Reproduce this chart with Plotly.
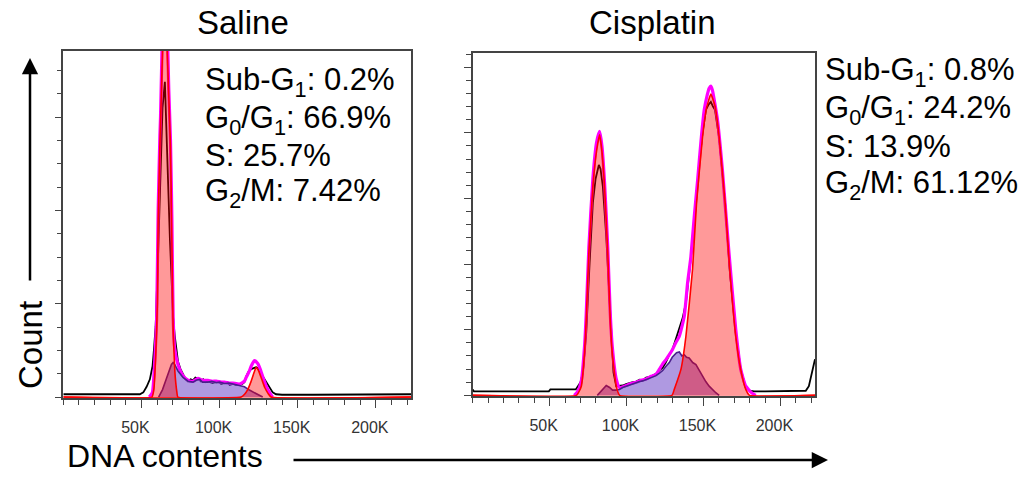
import plotly.graph_objects as go

# ---------------- data (x in K units of DNA content, y = counts) ----------------
# Saline panel
L_black_x = [0, 10, 20, 30, 40, 49, 51.2, 53.3, 55.4, 57.1,
             58.0, 59.1, 60.7, 62.2, 63.5, 65.0, 66.0, 67.1, 68.2, 69.2,
             70.3, 71.3, 72.4, 73.4, 75, 76.6, 78, 79.8, 81.5, 83.0,
             84.5, 86.2, 88, 89.5, 91, 92.6, 94, 95.5, 97.9, 99.5,
             101, 103.2, 105, 106.5, 108.5, 110.5, 112.7, 114.5, 115.9, 117.0,
             118.5, 120.2, 122.3, 123.4, 124.4, 125.5, 127.6, 129.8, 131.9, 134.0,
             136.1, 140, 160, 180, 200, 222.5]
L_black_y = [3, 3, 3, 3, 3, 3, 5, 11, 19, 33,
             51, 76, 155, 250, 310, 338, 280, 217, 170, 130,
             85, 66, 52, 38, 30, 24, 20, 17, 19, 18,
             21, 20, 17, 19, 16, 18, 16, 15, 16, 17,
             14, 15, 16, 13, 14, 13, 13, 14, 16, 22,
             27, 30, 31, 32, 31, 28, 22, 16, 10, 5,
             3, 2.5, 2.5, 2.5, 2.5, 3]

L_fit_x = [55, 57, 58.6, 59.7, 60.7, 61.8, 62.2, 63.5, 65.0, 66.5,
           67.5, 68.6, 69.5, 70.3, 71.3, 73.4, 76.6, 79.8, 83.0, 86.2,
           89, 92.6, 95, 97.9, 101, 103.2, 106, 108.5, 112.7, 115.9,
           117.0, 119.1, 120.2, 122.3, 124.4, 126, 127.6, 129.8, 131.9, 133.0, 134]
L_fit_y = [0, 5, 41, 83, 200, 280, 300, 400, 520, 400,
           330, 275, 190, 85, 52, 35, 23, 18, 17, 20,
           18, 18, 17, 17, 16, 16, 15, 15, 14, 17,
           21, 28, 33, 39, 36, 30, 22, 12, 5, 2, 0]

L_S_x = [61, 63.5, 66, 68.2, 69.2, 70.3, 71.3, 73.4, 76.6, 79.8,
         83.0, 85, 87.3, 89, 92.6, 95, 97.9, 100, 103.2, 106,
         108.5, 110.5, 112.7, 115.9, 119.1, 122.3, 125.5, 127.6]
L_S_y = [0, 8, 20, 30, 35, 37, 35, 28, 21, 17,
         16, 18, 19, 16, 16, 17, 15.5, 16, 14.5, 15,
         14, 13.5, 13, 11, 7.5, 4.5, 1.5, 0]

L_G1_x = [0, 56.7, 58.0, 59.2, 60.2, 60.7, 61.8, 63.5, 65.2, 66.5, 68.6, 69.3, 70.3, 71.4, 72.7, 73.3, 222.5]
L_G1_y = [0, 0, 9, 48, 100, 190, 270, 372, 520, 372, 270, 190, 73, 27, 5, 0, 0]

L_G2_x = [0, 113.8, 116, 118, 120, 122, 123.4, 125, 127, 129, 131, 133, 222.5]
L_G2_y = [0, 0, 3, 8, 16, 26, 32, 28, 19, 10, 4, 0, 0]

# Cisplatin panel
R_black_x = [0, 0.8, 2, 49.5, 50.5, 67, 68.4, 70.1, 71.6, 73.8,
             76.0, 78.1, 79.9, 82.0, 83.1, 84.6, 86.8, 88.5, 90.0, 91.5,
             93.3, 95.4, 97.5, 99.7, 102, 104, 106.2, 108.5, 110.5, 112.7,
             115, 117, 119.2, 121.4, 123.5, 125.5, 127.8, 129.9, 132, 134.3,
             136.5, 138.6, 140.8, 142.9, 145, 147.2, 149.4, 151.6, 153.3, 154.8,
             156.2, 157.5, 160.2, 164.1, 167.1, 171, 174.2, 177.5, 180, 183,
             190, 200, 210, 216.5, 218.5, 220, 221.5, 222.5]
R_black_y = [9, 6, 6, 6, 9, 9, 14, 20, 35, 96,
             202, 293, 330, 351, 345, 318, 242, 166, 90, 35,
             14, 14, 15, 17, 18, 20, 21, 24, 23, 27,
             28, 31, 33, 38, 42, 50, 62, 70, 86, 100,
             118, 141, 185, 233, 290, 354, 400, 435, 443, 447,
             440, 435, 392, 293, 190, 95, 40, 12, 7, 6,
             6, 6, 6, 7, 14, 28, 45, 55]

R_fit_x = [66, 68, 70.6, 72.7, 73.8, 75.5, 78.1, 80.5, 82.5, 84,
           85.7, 87.8, 89.4, 90.7, 93.3, 95.4, 99.7, 103, 106.2, 109.5,
           112.7, 116, 119.2, 121.4, 123.5, 125.5, 127.8, 129.9, 132, 134.3,
           137.5, 139.7, 141.8, 144, 146.2, 148.3, 150.5, 152.5, 153.7, 154.8,
           155.8, 159.1, 162.3, 166.6, 171, 174.2, 177.5, 181.7, 184]
R_fit_y = [0, 5, 22, 75, 125, 225, 330, 385, 402, 380,
           325, 225, 125, 75, 25, 12, 15, 18, 20, 23,
           25, 29, 32, 40, 48, 54, 62, 70, 80, 90,
           120, 172, 211, 272, 328, 385, 435, 458, 468, 471,
           465, 420, 344, 217, 100, 40, 14, 3, 0]

R_S_x = [81, 84, 86.8, 89, 90.9, 93, 95.4, 97.5, 99.7, 102,
         104, 106.2, 108.5, 110.5, 112.7, 115, 117, 119.2, 121.4, 123.5,
         125.5, 127.8, 129.7, 131, 132.5, 134.3, 136, 137.5, 139, 140.7,
         143, 145.1, 147.3, 149.4, 151.5, 153.7, 156, 158, 160.2]
R_S_y = [0, 8, 15, 12, 8, 8, 9, 12, 14, 16,
         17, 19, 21, 22, 24, 26, 28, 30, 34, 38,
         44, 50, 58, 61, 65, 66, 60, 62, 58, 57,
         50, 47, 38, 29, 21, 14, 8, 4, 0]

R_G1_x = [0, 67.5, 70.6, 72.7, 73.8, 75.5, 78.1, 80.5, 82.5, 84, 85.7, 87.8, 89.4, 90.7, 93.3, 95.5, 222.5]
R_G1_y = [0, 0, 14, 65, 116, 217, 318, 372, 397, 372, 318, 217, 116, 65, 14, 0, 0]

R_G2_x = [0, 129.5, 131, 135.4, 138.6, 142.9, 145.5, 149.4, 152, 154.8, 157.5, 160.2, 164.1, 167.1, 171, 174.2, 177.5, 180, 222.5]
R_G2_y = [0, 0, 9, 40, 90, 192, 293, 394, 438, 459, 441, 394, 293, 192, 90, 40, 9, 0, 0]

titles = ["Saline", "Cisplatin"]
saline_stats = ["Sub-G<sub>1</sub>: 0.2%", "G<sub>0</sub>/G<sub>1</sub>: 66.9%", "S: 25.7%", "G<sub>2</sub>/M: 7.42%"]
cis_stats = ["Sub-G<sub>1</sub>: 0.8%", "G<sub>0</sub>/G<sub>1</sub>: 24.2%", "S: 13.9%", "G<sub>2</sub>/M: 61.12%"]
x_tickvals = [50, 100, 150, 200]
x_ticktext = ["50K", "100K", "150K", "200K"]

for arr in [(L_black_x, L_black_y), (L_fit_x, L_fit_y), (L_S_x, L_S_y), (L_G1_x, L_G1_y), (L_G2_x, L_G2_y),
            (R_black_x, R_black_y), (R_fit_x, R_fit_y), (R_S_x, R_S_y), (R_G1_x, R_G1_y), (R_G2_x, R_G2_y)]:
    assert len(arr[0]) == len(arr[1])

FONT = "Liberation Sans, Arial, sans-serif"
RED_FILL = "rgba(255,0,0,0.40)"
S_FILL = "rgba(110,70,200,0.55)"

fig = go.Figure()


def add_panel(xa, ya, bx, by, fx, fy, sx, sy, g1x, g1y, g2x, g2y):
    fig.add_trace(go.Scatter(x=bx, y=by, mode="lines", line=dict(color="black", width=1.8),
                             xaxis=xa, yaxis=ya, hoverinfo="skip"))
    fig.add_trace(go.Scatter(x=fx, y=fy, mode="lines", line=dict(color="#ff00ff", width=3.2, shape="spline", smoothing=0.5),
                             xaxis=xa, yaxis=ya, hoverinfo="skip"))
    fig.add_trace(go.Scatter(x=sx, y=sy, mode="lines", fill="tozeroy", fillcolor=S_FILL,
                             line=dict(color="#4a1f8c", width=1.6), xaxis=xa, yaxis=ya, hoverinfo="skip"))
    for gx, gy in [(g1x, g1y), (g2x, g2y)]:
        fig.add_trace(go.Scatter(x=gx, y=gy, mode="lines", fill="tozeroy", fillcolor=RED_FILL,
                                 line=dict(color="#ff0000", width=1.6, shape="spline", smoothing=0.4),
                                 xaxis=xa, yaxis=ya, hoverinfo="skip"))


add_panel("x", "y", L_black_x, L_black_y, L_fit_x, L_fit_y, L_S_x, L_S_y, L_G1_x, L_G1_y, L_G2_x, L_G2_y)
add_panel("x2", "y2", R_black_x, R_black_y, R_fit_x, R_fit_y, R_S_x, R_S_y, R_G1_x, R_G1_y, R_G2_x, R_G2_y)

W, H = 1023, 477


def xdict(dom, anchor):
    return dict(domain=dom, anchor=anchor, range=[0, 222.5], showline=True, mirror=True, linecolor="#444", linewidth=1.5,
                ticks="outside", ticklen=8, tickwidth=1.2, tickcolor="#444",
                tickvals=x_tickvals, ticktext=x_ticktext,
                tickfont=dict(family=FONT, size=16, color="#333"),
                ticklabelstandoff=6, ticklabelshift=-6,
                minor=dict(dtick=10, tick0=0, ticks="outside", ticklen=5, tickwidth=1.2, tickcolor="#444"),
                showgrid=False, zeroline=False, layer="below traces", fixedrange=True)


def ydict(dom, anchor, top, minor):
    return dict(domain=dom, anchor=anchor, range=[-1, top], showline=True, mirror=True, linecolor="#444", linewidth=1.5,
                ticks="outside", ticklen=7, tickwidth=1.2, tickcolor="#444", dtick=100, tick0=0,
                showticklabels=False,
                minor=dict(dtick=minor, tick0=0, ticks="outside", ticklen=5, tickwidth=1.2, tickcolor="#444"),
                showgrid=False, zeroline=False, layer="below traces", fixedrange=True)


fig.update_layout(
    width=W, height=H, margin=dict(l=0, r=0, t=0, b=0),
    paper_bgcolor="white", plot_bgcolor="white", showlegend=False,
    xaxis=xdict([63.3 / W, 411 / W], "y"),
    yaxis=ydict([1 - 398 / H, 1 - 51 / H], "x", 371, 25),
    xaxis2=xdict([472.7 / W, 815 / W], "y2"),
    yaxis2=ydict([1 - 396 / H, 1 - 52.7 / H], "x2", 522, 20),
)

ann = []
for t, xc in zip(titles, [243, 652]):
    ann.append(dict(text=t, x=xc / W, y=1 - 22 / H, xref="paper", yref="paper", showarrow=False,
                    font=dict(family=FONT, size=33, color="black"), xanchor="center", yanchor="middle"))
for t, yc in zip(saline_stats, [81.7, 120, 156, 193.3]):
    ann.append(dict(text=t, x=203 / W, y=1 - yc / H, xref="paper", yref="paper", showarrow=False,
                    font=dict(family=FONT, size=31, color="black"), xanchor="left", yanchor="middle"))
for t, yc in zip(cis_stats, [71.7, 110, 147, 184.5]):
    ann.append(dict(text=t, x=823 / W, y=1 - yc / H, xref="paper", yref="paper", showarrow=False,
                    font=dict(family=FONT, size=31, color="black"), xanchor="left", yanchor="middle"))
ann.append(dict(text="Count", x=30 / W, y=1 - 345 / H, xref="paper", yref="paper", showarrow=False, textangle=-90,
                font=dict(family=FONT, size=33, color="black"), xanchor="center", yanchor="middle"))
ann.append(dict(text="DNA contents", x=165 / W, y=0.002, xref="paper", yref="paper", showarrow=False,
                font=dict(family=FONT, size=32, color="black"), xanchor="center", yanchor="bottom"))
ann.append(dict(text="", x=30 / W, y=1 - 58 / H, xref="paper", yref="paper", showarrow=True,
                ax=0, ay=224, arrowhead=2, arrowsize=1.3, arrowwidth=2.5, arrowcolor="black"))
ann.append(dict(text="", x=828 / W, y=1 - 460 / H, xref="paper", yref="paper", showarrow=True,
                ax=-536, ay=0, arrowhead=2, arrowsize=1.3, arrowwidth=2.5, arrowcolor="black"))
fig.update_layout(annotations=ann)

fig.write_html("out.html")
